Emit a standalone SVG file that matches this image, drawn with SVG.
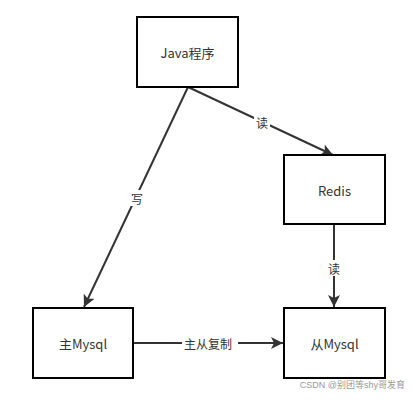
<svg xmlns="http://www.w3.org/2000/svg" width="419" height="403" viewBox="0 0 419 403">
<style>
.box{fill:#fff;stroke:#000;stroke-width:2}
.lbl{font-family:"Noto Sans CJK SC","Liberation Sans",sans-serif;font-size:13px;fill:#333;text-anchor:middle;dominant-baseline:central}
.edge{stroke:#333;stroke-width:2;fill:none}
.el{font-family:"Noto Sans CJK SC","Liberation Sans",sans-serif;font-size:12px;fill:#333;text-anchor:middle;dominant-baseline:central}
.bg{fill:#fff}
</style>
<defs>
<marker id="arr" viewBox="0 0 10 10" refX="10" refY="5" markerWidth="6" markerHeight="6" orient="auto" markerUnits="strokeWidth">
<path d="M0,0 L10,5 L0,10 L2.5,5 Z" fill="#333"/>
</marker>
</defs>
<rect width="419" height="403" fill="#fff"/>
<g id="connectors">
<line class="edge" x1="188" y1="87" x2="333" y2="155" marker-end="url(#arr)"/>
<rect class="bg" x="254" y="114" width="16" height="16"/>
<text class="el" x="262" y="122">读</text>
<line class="edge" x1="188" y1="87" x2="84" y2="307" marker-end="url(#arr)"/>
<rect class="bg" x="129" y="190" width="16" height="16"/>
<text class="el" x="137" y="198">写</text>
<line class="edge" x1="334" y1="225" x2="334" y2="307" marker-end="url(#arr)"/>
<rect class="bg" x="326" y="260" width="16" height="16"/>
<text class="el" x="334" y="268">读</text>
<line class="edge" x1="133" y1="343" x2="283" y2="343" marker-end="url(#arr)"/>
<rect class="bg" x="182" y="335" width="56" height="16"/>
<text class="el" x="208" y="343">主从复制</text>
</g>
<g id="java"><rect class="box" x="137" y="17" width="101" height="70"/><text class="lbl" x="187.5" y="52">Java程序</text></g>
<g id="redis"><rect class="box" x="284" y="155" width="101" height="69"/><text class="lbl" x="334.5" y="190">Redis</text></g>
<g id="master"><rect class="box" x="33" y="308" width="100" height="70"/><text class="lbl" x="83" y="343">主Mysql</text></g>
<g id="slave"><rect class="box" x="284" y="308" width="101" height="70"/><text class="lbl" x="334.5" y="343">从Mysql</text></g>
<text x="405" y="388" font-family="Liberation Sans,'Noto Sans CJK SC',sans-serif" font-size="9" fill="#999" text-anchor="end">CSDN @别团等shy哥发育</text>
</svg>
